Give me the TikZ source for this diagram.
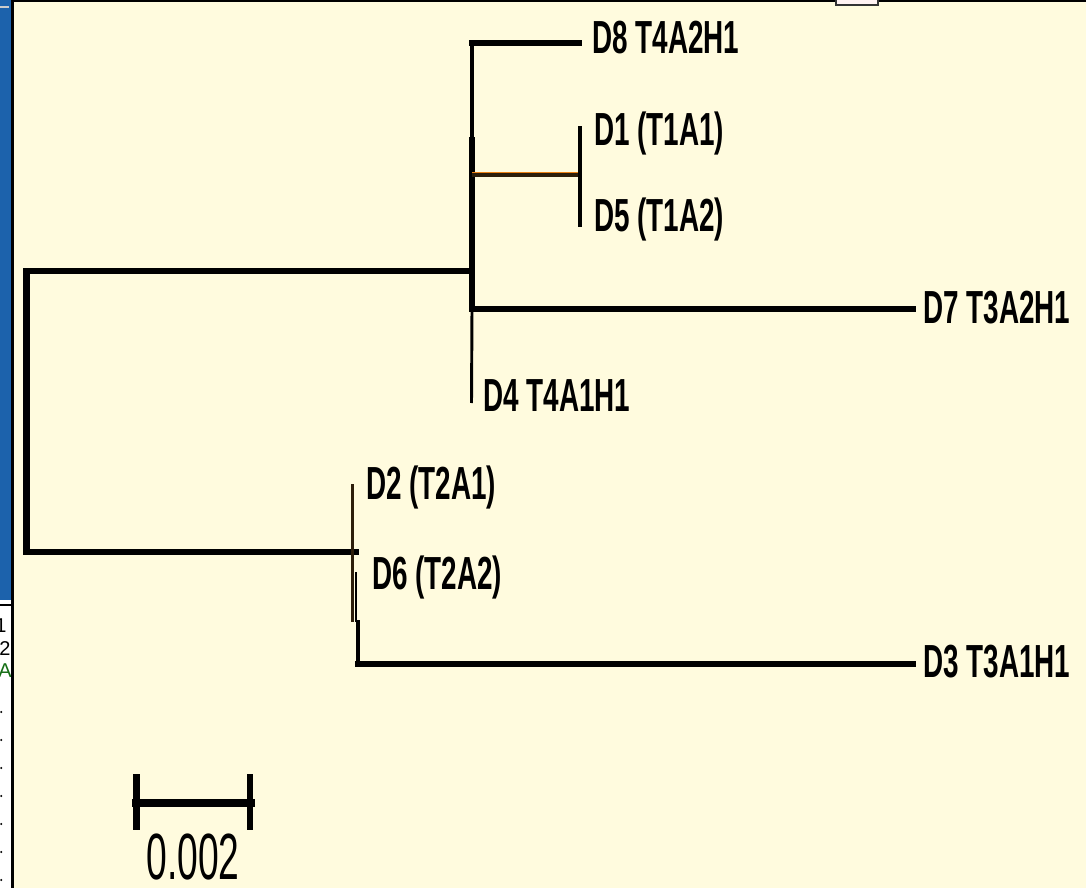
\documentclass[tikz,border=0pt]{standalone}
\usepackage{fontspec}
\newfontfamily\labfont{Liberation Sans}[FakeStretch=0.6]
\newfontfamily\scalefont{Liberation Sans}[FakeStretch=0.57]
\newfontfamily\uifont{Liberation Sans}
\definecolor{cream}{RGB}{255,251,222}
\definecolor{uiblue}{RGB}{28,98,172}
\definecolor{uigreen}{RGB}{20,110,20}
\definecolor{brownline}{RGB}{45,30,10}
\begin{document}
\begin{tikzpicture}[x=0.75pt,y=-0.75pt,
  thickbr/.style={line width=5pt,line cap=rect,line join=miter},
  thinbr/.style={line width=2.2pt,line cap=butt},
  uitext/.style={anchor=base west,inner sep=0pt,font=\uifont\fontsize{15}{16}\selectfont},
  leaf/.style={anchor=base west,inner sep=0pt,font=\labfont\bfseries\fontsize{34.8}{37}\selectfont}]
\useasboundingbox (0,0) rectangle (1086,888);
% background
\fill[cream] (0,0) rectangle (1086,888);
% left UI fragment
\fill[uiblue] (0,0) rectangle (11,600);
\draw[gray!40,line width=1.5pt] (0,7) -- (9,7);
\fill[white] (0,600) rectangle (11,888);
\draw[black,line width=1.3pt] (0,605) -- (11,605);
\begin{scope}
\clip (0,606) rectangle (11,888);
\node[uitext] (ui1) at (-5,632) {1};
\node[uitext] (ui2) at (-1,655) {2\textcolor{uiblue}{(}};
\node[uitext,text=uigreen] (ui3) at (-2,677) {AZ};
\end{scope}
\foreach \yy in {712,740,768,796,824,852,880} \fill[black] (1.2,\yy) circle (1.1);
\draw[black,line width=2pt] (12.5,0) -- (12.5,888);
\draw[black,line width=1.6pt] (12,1) -- (1086,1);
\filldraw[fill=red!5,draw=black!80,line width=1.2pt] (836,-2) rectangle (878,5);
% ---- tree coordinates
\coordinate (rt) at (26.5,271);
\coordinate (rb) at (26.5,552);
\coordinate (nA) at (472,271);
\coordinate (nAtop) at (472,43);
\coordinate (nAmid) at (472,140);
\coordinate (nAd7) at (472,309);
\coordinate (nC) at (472,175);
\coordinate (tD8) at (579,43);
\coordinate (nCr) at (580,175);
\coordinate (tD1) at (580,128);
\coordinate (tD5) at (580,225);
\coordinate (tD7) at (913,309);
\coordinate (tD4) at (471.5,403);
\coordinate (nB) at (352.5,552);
\coordinate (tD2) at (352.5,484);
\coordinate (nBlow) at (352.5,622);
\coordinate (tD6) at (356,572);
\coordinate (nD6low) at (356,622);
\coordinate (nD3top) at (358,622);
\coordinate (nD3) at (358,664);
\coordinate (tD3) at (913,664);
% root
\draw[thickbr] (nA) -- (rt) -- (rb) -- (nB);
% upper clade
\draw[line width=3pt,line cap=rect] (nAtop) -- (nAmid);
\draw[thickbr] (nAmid) -- (nAd7);
\draw[thickbr] (nAtop) -- (tD8);
\draw[thinbr] (nAd7) -- (tD4);
\draw[thickbr] (nAd7) -- (tD7);
\draw[line width=1.2pt,orange!70!brown] ([yshift=1.5]nC) -- ([yshift=1.5]nCr);
\draw[line width=2.6pt,brownline] (nC) -- (nCr);
\draw[line width=2.4pt,line cap=rect] (tD1) -- (tD5);
% lower clade
\draw[thickbr] (nB) -- ([xshift=2]nB);
\draw[thinbr,brownline] (tD2) -- (nBlow);
\draw[thinbr] (tD6) -- (nD6low);
\draw[line width=3pt,line cap=rect] (nD3top) -- (nD3);
\draw[thickbr] (nD3) -- (tD3);
% labels
\node[leaf] (lD8) at (592,54) {D8 T4A2H1};
\node[leaf] (lD1) at (594,146) {D1 (T1A1)};
\node[leaf] (lD5) at (594,232) {D5 (T1A2)};
\node[leaf] (lD7) at (923,324) {D7 T3A2H1};
\node[leaf] (lD4) at (483,411) {D4 T4A1H1};
\node[leaf] (lD2) at (366,499) {D2 (T2A1)};
\node[leaf] (lD6) at (372,589) {D6 (T2A2)};
\node[leaf] (lD3) at (923,677) {D3 T3A1H1};
% scale bar
\coordinate (sL) at (136.5,803);
\coordinate (sR) at (250,803);
\draw[line width=6pt,line cap=butt] ([xshift=-3.5]sL) -- ([xshift=3.5]sR);
\draw[line width=5.2pt] ([yshift=-20]sL) -- ([yshift=22]sL);
\draw[line width=5.2pt] ([yshift=-20]sR) -- ([yshift=22]sR);
\node[anchor=base,inner sep=0pt,font=\scalefont\fontsize{49}{51}\selectfont] (sc) at (193,879) {0.002};
\end{tikzpicture}
\end{document}
